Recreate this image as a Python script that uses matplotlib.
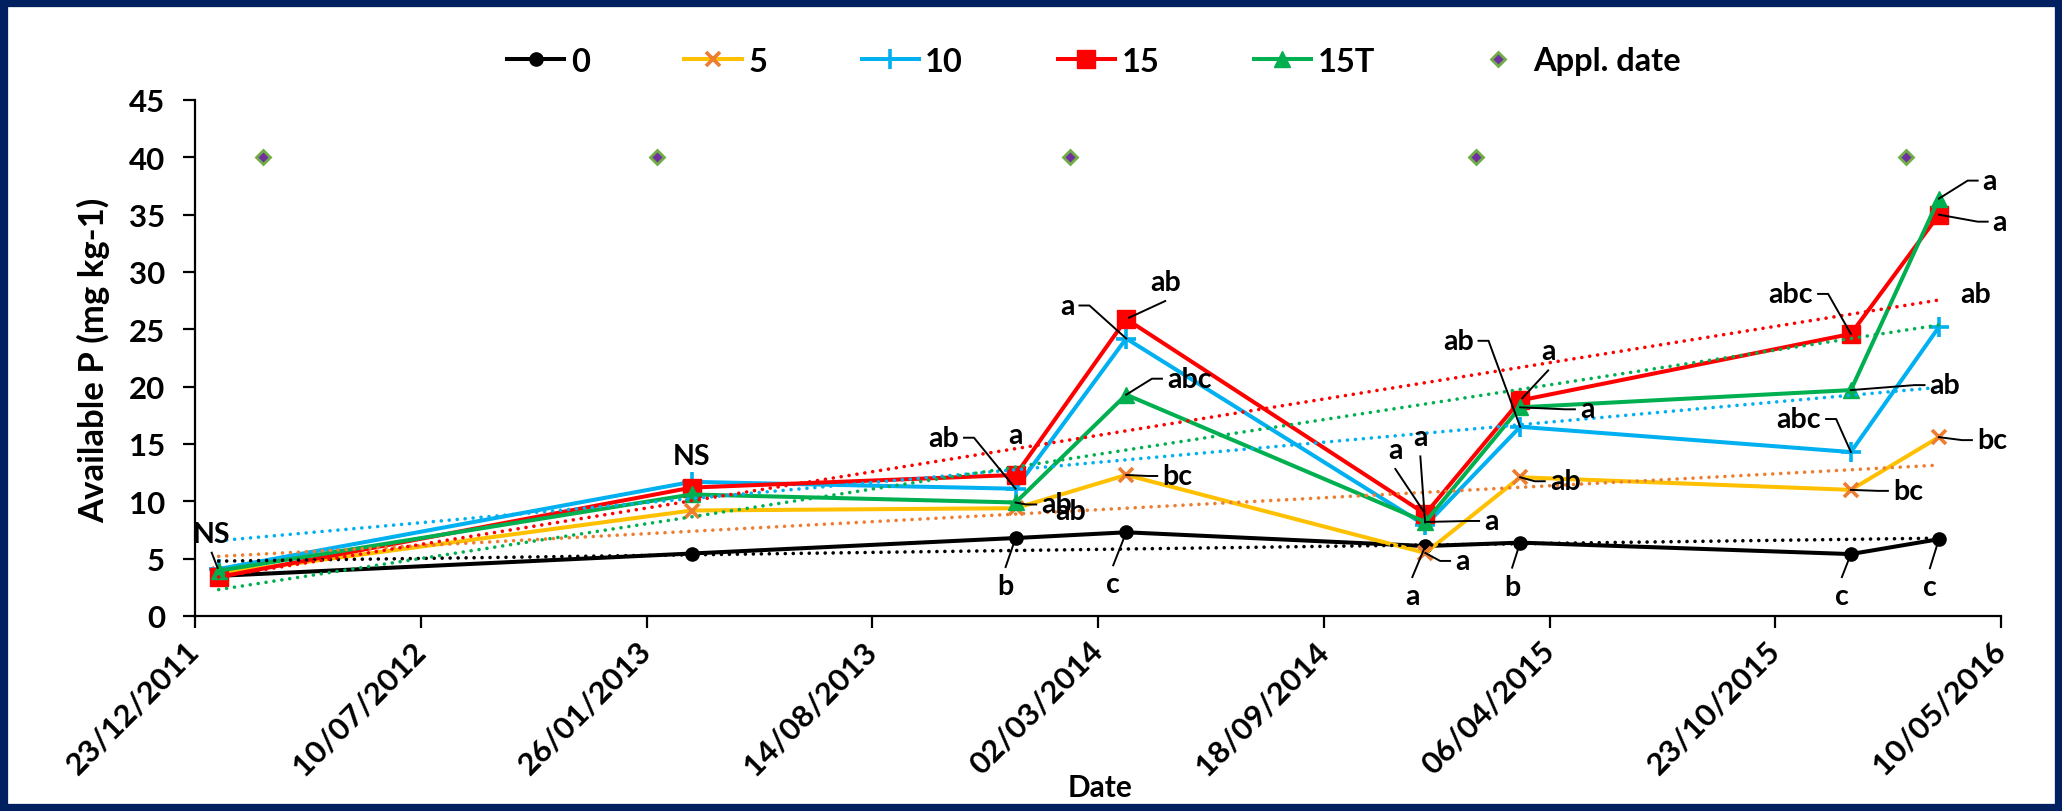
import numpy as np
import matplotlib
matplotlib.use('Agg')
import matplotlib.pyplot as plt
import matplotlib.dates as mdates
from matplotlib.lines import Line2D
from matplotlib.patches import Rectangle
from matplotlib.transforms import IdentityTransform
from datetime import datetime

plt.rcParams['font.family'] = ['Lato', 'DejaVu Sans']
plt.rcParams['font.weight'] = 'bold'

# sampling dates (dd/mm/yyyy) and available P per treatment
sample_dates = ['13/01/2012', '07/03/2013', '19/12/2013', '27/03/2014',
                '17/12/2014', '11/03/2015', '29/12/2015', '16/03/2016']
p_0 = [3.5, 5.45, 6.8, 7.3, 6.1, 6.4, 5.4, 6.7]
p_5 = [3.7, 9.2, 9.4, 12.3, 5.5, 12.1, 11.0, 15.6]
p_10 = [4.1, 11.7, 11.1, 24.2, 7.9, 16.5, 14.3, 25.2]
p_15 = [3.4, 11.2, 12.3, 25.9, 8.9, 18.8, 24.6, 35.0]
p_15T = [3.95, 10.6, 9.9, 19.3, 8.2, 18.2, 19.7, 36.4]

appl_dates = ['21/02/2012', '04/02/2013', '05/02/2014', '31/01/2015', '16/02/2016']
appl_level = [40, 40, 40, 40, 40]

tick_dates = ['23/12/2011', '10/07/2012', '26/01/2013', '14/08/2013', '02/03/2014',
              '18/09/2014', '06/04/2015', '23/10/2015', '10/05/2016']

# letters of the mean separation: (series, sample index, text)
letters = [
    ('15T', 0, 'NS'), ('10', 1, 'NS'),
    ('10', 2, 'ab'), ('15', 2, 'a'), ('15T', 2, 'ab'), ('5', 2, 'ab'), ('0', 2, 'b'),
    ('10', 3, 'a'), ('15', 3, 'ab'), ('15T', 3, 'abc'), ('5', 3, 'bc'), ('0', 3, 'c'),
    ('15', 4, 'a'), ('10', 4, 'a'), ('15T', 4, 'a'), ('5', 4, 'a'), ('0', 4, 'a'),
    ('10', 5, 'ab'), ('15', 5, 'a'), ('15T', 5, 'a'), ('5', 5, 'ab'), ('0', 5, 'b'),
    ('15', 6, 'abc'), ('10', 6, 'abc'), ('15T', 6, 'ab'), ('5', 6, 'bc'), ('0', 6, 'c'),
    ('15T', 7, 'a'), ('15', 7, 'a'), ('10', 7, 'ab'), ('5', 7, 'bc'), ('0', 7, 'c'),
]
# label offsets in pixels from the point, and leader style (s=side, v=vertical)
label_pos = [
    (-7, 37, 'v'), (0, 26, ''),
    (-72, 51, 's'), (0, 40, ''), (41, -2, 's'), (55, -3, ''), (-10, -48, 'v'),
    (-59, 33, 's'), (39, 37, 'v'), (63, 16, 's'), (51, -1, 's'), (-13, -52, 'v'),
    (-30, 64, 'v'), (-5, 88, 'v'), (66, 1, 's'), (37, -8, 's'), (-13, -50, 'v'),
    (-62, 86, 's'), (28, 49, 'v'), (67, -2, 's'), (45, -4, 's'), (-8, -44, 'v'),
    (-60, 40, 's'), (-52, 33, 's'), (94, 5, 's'), (57, -1, 's'), (-9, -42, 'v'),
    (51, 18, 's'), (61, -7, 's'), (37, 33, ''), (53, -3, 's'), (-9, -48, 'v'),
]


def to_num(lst):
    return mdates.date2num([datetime.strptime(s, '%d/%m/%Y') for s in lst])


xs = to_num(sample_dates)
values = {'0': p_0, '5': p_5, '10': p_10, '15': p_15, '15T': p_15T}

styles = {
    '0': dict(color='black', marker='o', ms=9.5, mfc='black', mec='black'),
    '5': dict(color='#FFC000', marker='x', ms=10.5, mec='#ED7D31', mew=2.6),
    '10': dict(color='#00B0F0', marker='+', ms=14, mec='#00B0F0', mew=2.6),
    '15': dict(color='#FF0000', marker='s', ms=12.5, mfc='#FF0000', mec='#FF0000'),
    '15T': dict(color='#00B050', marker='^', ms=12, mfc='#00B050', mec='#00B050'),
}
trend_colors = {'0': 'black', '5': '#ED7D31', '10': '#00B0F0', '15': '#FF0000', '15T': '#00B050'}

fig = plt.figure(figsize=(20.62, 8.12), dpi=100)
fig.patch.set_facecolor('white')
ax = fig.add_axes([195 / 2062, 195 / 812, 1806 / 2062, 516 / 812])

handles = []
for key in ['0', '5', '10', '15', '15T']:
    ln, = ax.plot(xs, values[key], lw=2.9, zorder=3, label=key, **styles[key])
    handles.append(ln)

# linear trendlines (as in the spreadsheet)
for key in ['0', '5', '10', '15', '15T']:
    k, b = np.polyfit(xs, values[key], 1)
    xx = np.array([xs[0], xs[-1]])
    ax.plot(xx, k * xx + b, linestyle=(0, (0.01, 2.2)), dash_capstyle='round',
            lw=2.6, color=trend_colors[key], zorder=4)

appl, = ax.plot(to_num(appl_dates), appl_level, linestyle='none', marker='D', ms=7.5,
                mfc='#7030A0', mec='#70AD47', mew=2, zorder=5, label='Appl. date')
handles.append(appl)

ticks = to_num(tick_dates)
ax.set_xlim(ticks[0], ticks[-1])
ax.set_ylim(0, 45)
ax.set_xticks(ticks)
ax.set_xticklabels(tick_dates)
ax.set_yticks(np.arange(0, 46, 5))

for s in ['top', 'right']:
    ax.spines[s].set_visible(False)
for s in ['left', 'bottom']:
    ax.spines[s].set_linewidth(1.6)
ax.tick_params(axis='both', direction='out', length=8.5, width=1.6, labelsize=22.5)
ax.tick_params(axis='y', pad=13)
ax.tick_params(axis='x', pad=13)
for lab in ax.get_xticklabels():
    lab.set_rotation(45)
    lab.set_ha('right')
    lab.set_va('center')
    lab.set_rotation_mode('anchor')
for lab in ax.get_xticklabels() + ax.get_yticklabels():
    lab.set_fontweight('bold')

ylab = fig.text(94 / 2062, 1 - 360 / 812, 'Available P (mg kg-1)', rotation=90,
                ha='center', va='center', fontsize=21, fontweight='bold')
fig.text(1100 / 2062, 1 - 788 / 812, 'Date', ha='center', va='center',
         fontsize=21.5, fontweight='bold')

fig.legend(handles, [h.get_label() for h in handles], loc='center',
           bbox_to_anchor=(1094 / 2062, 1 - 62 / 812), ncol=6, frameon=False,
           fontsize=23.5, handlelength=1.75, handletextpad=0.2, columnspacing=2.9)

placed = []
for (key, i, txt), (dx, dy, mode) in zip(letters, label_pos):
    y = values[key][i]
    t = ax.annotate(txt, (xs[i], y), xytext=(dx, dy), textcoords='offset pixels',
                    ha='center', va='center', fontsize=20.5, fontweight='bold', zorder=6)
    placed.append((t, xs[i], y, mode))

fig.canvas.draw()
rend = fig.canvas.get_renderer()

# the axis title is narrower in the original font: fit it to its length there
h = ylab.get_window_extent(rend).height
ylab.set_fontsize(21 * 326 / h)

for t, x, y, mode in placed:
    if not mode:
        continue
    bb = t.get_window_extent(rend)
    px, py = ax.transData.transform((x, y))
    cx, cy = (bb.x0 + bb.x1) / 2, (bb.y0 + bb.y1) / 2
    if mode == 's':
        sg = 1 if px > cx else -1
        e = bb.x1 + 5 if sg > 0 else bb.x0 - 5
        lx, ly = [e, e + sg * 10, px], [cy, cy, py]
    else:
        sy = bb.y0 - 6 if py < cy else bb.y1 + 6
        d = np.hypot(px - cx, py - sy)
        ex = px - (px - cx) / d * 3
        ey = py - (py - sy) / d * 3
        lx, ly = [cx, ex], [sy, ey]
    fig.add_artist(Line2D(lx, ly, transform=IdentityTransform(), color='black', lw=1.4))

fig.add_artist(Rectangle((0, 0), 1, 1, transform=fig.transFigure, fill=False,
                         edgecolor='#002060', lw=11, clip_on=False))

fig.savefig('out.png', dpi=100, facecolor=fig.get_facecolor())
